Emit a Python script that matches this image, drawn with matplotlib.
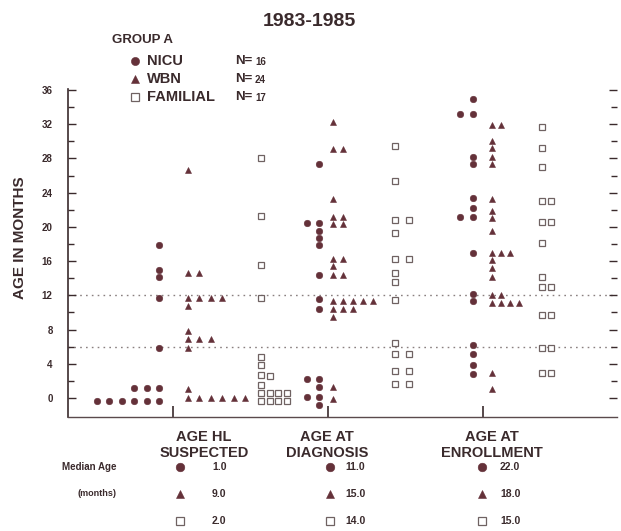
import numpy as np
import matplotlib.pyplot as plt

W, H = 621, 531
INK = "#3a2a2c"
DOT = "#643139"
BOX = "#6f6262"

plt.rcParams['font.family'] = ['Liberation Sans', 'DejaVu Sans']
plt.rcParams['font.weight'] = 'bold'

# ages in months, one list per sub-column (left to right) of each cluster
groups = ["AGE HL\nSUSPECTED", "AGE AT\nDIAGNOSIS", "AGE AT\nENROLLMENT"]

nicu = [
    [[-0.3], [-0.3], [-0.3], [-0.3, 1.2], [-0.3, 1.2],
     [-0.3, 1.2, 5.85, 11.7, 14.2, 15.0, 17.9]],
    [[0.1, 2.2, 20.5],
     [-0.8, 0.1, 1.25, 2.2, 10.4, 11.6, 14.4, 17.9, 18.7, 19.5, 20.5, 27.3]],
    [[21.2, 33.2],
     [2.8, 3.9, 5.1, 6.2, 11.3, 12.2, 17.0, 21.2, 22.2, 23.4, 27.3, 28.2, 33.2, 35.0]],
]
wbn = [
    [[0, 1.0, 5.8, 6.9, 7.8, 10.8, 11.7, 14.6, 26.7], [0, 6.9, 11.7, 14.6],
     [0, 6.9, 11.7], [0, 11.7], [0], [0]],
    [[-0.1, 1.3, 9.5, 10.4, 11.3, 14.4, 15.4, 16.3, 20.3, 21.2, 23.3, 29.1, 32.2],
     [10.4, 11.3, 14.4, 16.3, 20.3, 21.2, 29.1], [10.4, 11.3], [11.3], [11.3]],
    [[1.0, 2.9, 11.1, 12.0, 14.2, 15.2, 16.1, 17.0, 19.5, 21.0, 21.8, 23.3,
      27.4, 28.2, 29.2, 30.0, 31.9],
     [11.1, 12.0, 17.0, 31.9], [11.1, 17.0], [11.1]],
]
familial = [
    [[-0.4, 0.55, 1.5, 2.7, 3.9, 4.85, 11.7, 15.5, 21.3, 28.0],
     [-0.4, 0.55, 2.6], [-0.4, 0.55], [-0.4, 0.55]],
    [[1.6, 3.2, 5.1, 6.4, 11.4, 13.5, 14.6, 16.3, 19.3, 20.8, 25.4, 29.5],
     [1.6, 3.2, 5.1, 16.3, 20.8]],
    [[2.9, 5.8, 9.7, 13.0, 14.2, 18.1, 20.6, 23.0, 27.0, 29.2, 31.7],
     [2.9, 5.8, 9.7, 13.0, 20.6, 23.0]],
]

legend_names = ["NICU", "WBN", "FAMILIAL"]
legend_n = ["16", "24", "17"]
median_nicu = ["1.0", "11.0", "22.0"]
median_wbn = ["9.0", "15.0", "18.0"]
median_fam = ["2.0", "14.0", "15.0"]
ref_lines = [12, 6]

# layout (x in pixel-like units along the axis)
ticks_x = [173, 328, 483]
label_x = [204, 327, 492]
anchors = {"nicu": [(97, 12.4), (306.5, 12.0), (460, 12.8)],
           "wbn": [(187.5, 11.5), (333, 10.0), (491.7, 9.2)],
           "fam": [(261, 8.7), (395, 14.0), (542, 9.0)]}
styles = {"nicu": dict(marker='o', ms=4.7, mfc=DOT, mec=DOT, mew=0.4),
          "wbn": dict(marker='^', ms=4.6, mfc=DOT, mec=DOT, mew=0.4),
          "fam": dict(marker='s', ms=4.6, mfc='white', mec=BOX, mew=0.9)}

def fx(x):
    return x / W

def fy(y):
    return 1 - y / H

fig = plt.figure(figsize=(W / 100, H / 100), dpi=100)
ax = fig.add_axes([fx(68), fy(417), (617 - 68) / W, (417 - 89) / H])
ax.set_xlim(68, 617)
ax.set_ylim((398 - 417) / 8.556, (398 - 89) / 8.556)

for v in ref_lines:
    ax.axhline(v, color="#8a8080", lw=1.0, ls=(0, (1.2, 3.0)), zorder=1)

for key, data in (("nicu", nicu), ("wbn", wbn), ("fam", familial)):
    for g, cols in enumerate(data):
        x0, step = anchors[key][g]
        for j, vals in enumerate(cols):
            ax.plot([x0 + j * step] * len(vals), vals, ls='none', zorder=3,
                    **styles[key])

for s in ("top", "right"):
    ax.spines[s].set_visible(False)
ax.spines["left"].set_color(INK)
ax.spines["left"].set_linewidth(1.2)
ax.spines["bottom"].set_color("#5a4a4c")
ax.spines["bottom"].set_linewidth(1.0)

ax.set_yticks(np.arange(0, 37, 4))
ax.set_yticks(np.arange(2, 36, 4), minor=True)
ax.tick_params(axis='y', which='both', direction='in', colors=INK,
               labelsize=7, pad=11, right=True, width=1.0)
ax.tick_params(axis='y', which='major', length=6)
ax.tick_params(axis='y', which='minor', length=4)
ax.set_xticks(ticks_x)
ax.set_xticklabels([])
ax.tick_params(axis='x', direction='in', length=8, width=1.2, colors=INK)

fig.text(fx(20), fy(238), "AGE IN MONTHS", fontsize=11, rotation=90,
         ha='center', va='center', color=INK)

# header
fig.text(fx(309), fy(22), "1983-1985", fontsize=14, ha='center', va='center',
         color=INK)
fig.text(fx(112), fy(40), "GROUP A", fontsize=9.5, ha='left', va='center',
         color=INK)
for i, key in enumerate(("nicu", "wbn", "fam")):
    yy = 61 + i * 18
    st = dict(styles[key])
    st['ms'] = st['ms'] + 1.2
    fig.add_artist(plt.Line2D([fx(135)], [fy(yy)], transform=fig.transFigure,
                              ls='none', **st))
    fig.text(fx(147), fy(yy), legend_names[i], fontsize=10.5, ha='left',
             va='center', color=INK)
    fig.text(fx(235), fy(yy), "N=", fontsize=9.5, ha='left', va='center',
             color=INK)
    fig.text(fx(255), fy(yy + 1), legend_n[i], fontsize=7, ha='left',
             va='center', color=INK)

# category labels under the axis
for i, lab in enumerate(groups):
    fig.text(fx(label_x[i]), fy(445), lab, fontsize=10.5, ha='center',
             va='center', color=INK, linespacing=1.15)

# median table
fig.text(fx(62), fy(467), "Median Age", fontsize=7, ha='left', va='center',
         color=INK)
fig.text(fx(77), fy(493), "(months)", fontsize=6.5, ha='left', va='center',
         color=INK)
mk_x = [180, 330, 482]
val_off = [32, 15, 18]
rows = [("nicu", median_nicu, 467), ("wbn", median_wbn, 494),
        ("fam", median_fam, 521)]
for key, vals, yy in rows:
    st = dict(styles[key])
    st['ms'] = st['ms'] + 1.5
    for i in range(3):
        fig.add_artist(plt.Line2D([fx(mk_x[i])], [fy(yy)],
                                  transform=fig.transFigure, ls='none', **st))
        fig.text(fx(mk_x[i] + val_off[i]), fy(yy), vals[i], fontsize=7.5,
                 ha='left', va='center', color=INK)

fig.savefig("out.png", dpi=100, facecolor='white')
